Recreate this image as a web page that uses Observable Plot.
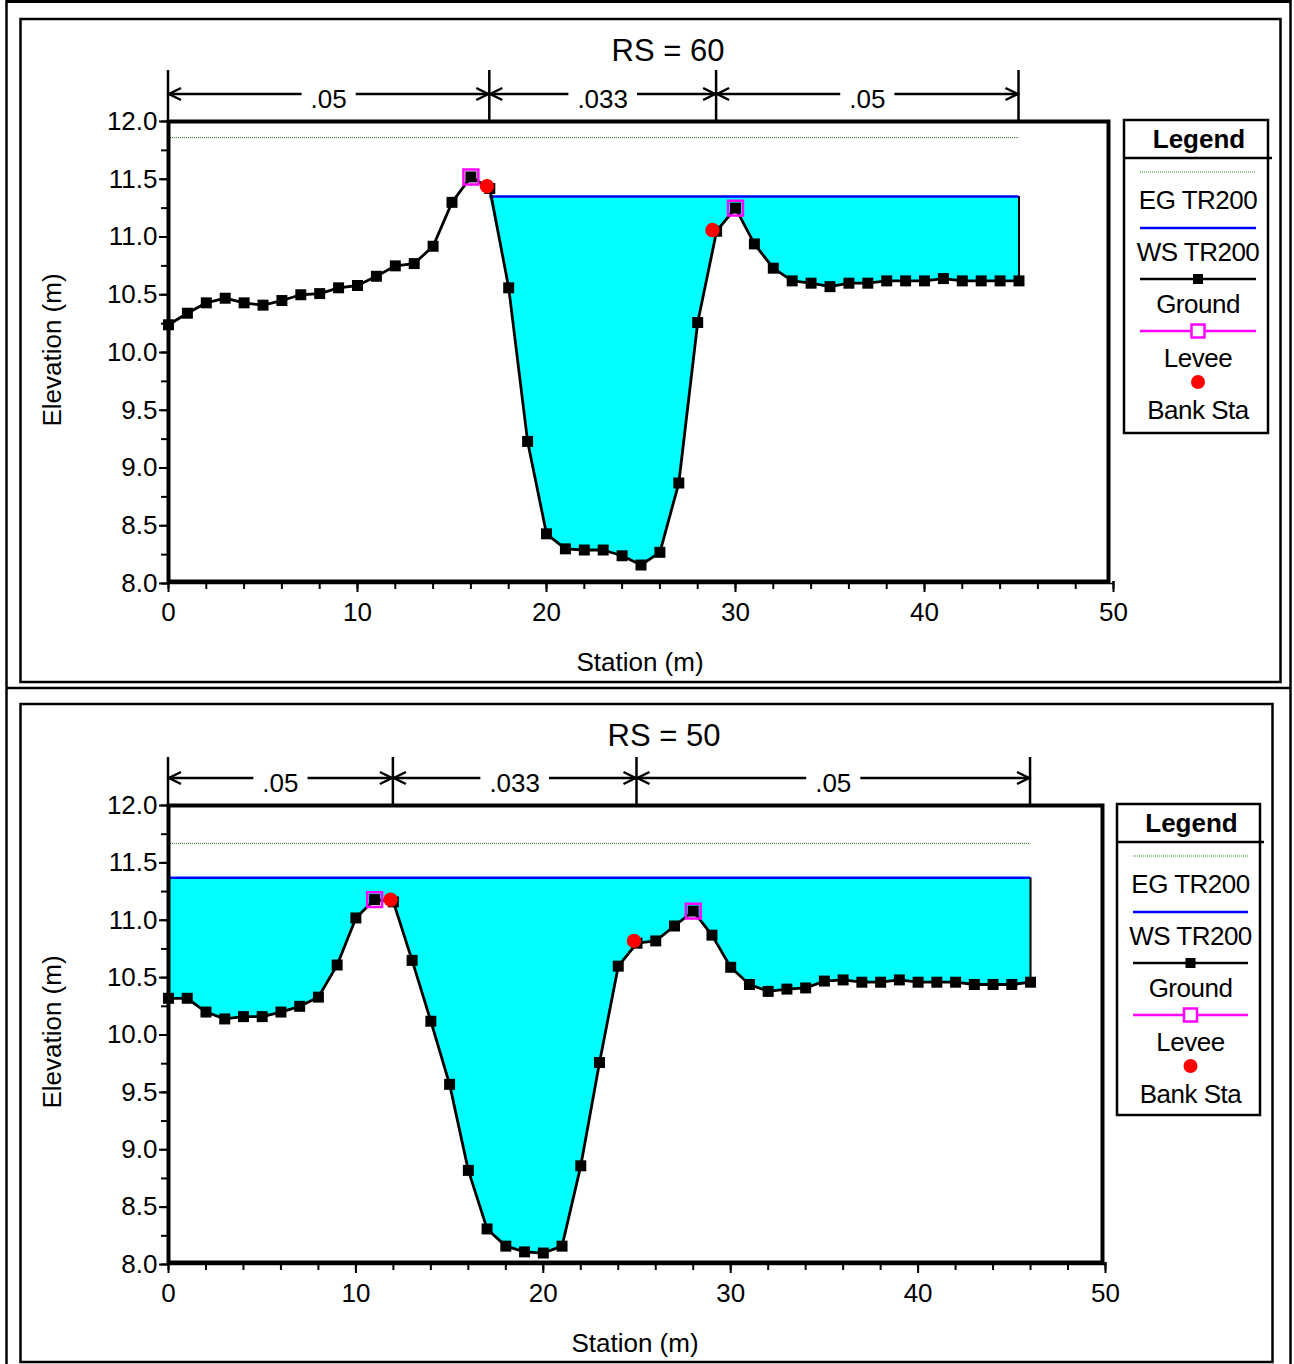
<!DOCTYPE html>
<html><head><meta charset="utf-8">
<script src="https://cdn.jsdelivr.net/npm/d3@7"></script>
<script src="https://cdn.jsdelivr.net/npm/@observablehq/plot@0.6"></script>
<style>
body{margin:0;background:#fff;}
#page{position:relative;width:1294px;height:1364px;overflow:hidden;background:#fff;}
#page svg.plotsvg{position:absolute;left:0;}
#overlay{position:absolute;left:0;top:0;pointer-events:none;}
</style></head><body><div id="page"></div>
<script>
const FONT = "'Liberation Sans', Arial, Helvetica, sans-serif";

// ---------------- DATA ----------------
// RS = 60
const rs60Title = "RS = 60";
const rs60Station = [0,1,2,3,4,5,6,7,8,9,10,11,12,13,14,15,16,17,18,19,20,21,22,23,24,25,26,27,28,29,30,31,32,33,34,35,36,37,38,39,40,41,42,43,44,45];
const rs60Ground = [10.24,10.34,10.43,10.47,10.43,10.41,10.45,10.50,10.51,10.56,10.58,10.66,10.75,10.77,10.92,11.30,11.52,11.42,10.56,9.23,8.43,8.30,8.29,8.29,8.24,8.16,8.27,8.87,10.26,11.05,11.25,10.94,10.73,10.62,10.60,10.57,10.60,10.60,10.62,10.62,10.62,10.64,10.62,10.62,10.62,10.62];
const rs60WS = 11.35;
const rs60EG = 11.86;
const rs60WetFrom = 17, rs60WetTo = 45;
const rs60LeveeStation = [16, 30];
const rs60LeveeElev = [11.52, 11.25];
const rs60BankStation = [16.85, 28.78];
const rs60BankElev = [11.44, 11.06];
const rs60NBounds = [0, 17, 29, 45];
const rs60NValues = [".05", ".033", ".05"];

// RS = 50
const rs50Title = "RS = 50";
const rs50Station = [0,1,2,3,4,5,6,7,8,9,10,11,12,13,14,15,16,17,18,19,20,21,22,23,24,25,26,27,28,29,30,31,32,33,34,35,36,37,38,39,40,41,42,43,44,45,46];
const rs50Ground = [10.32,10.32,10.20,10.14,10.16,10.16,10.20,10.25,10.33,10.61,11.02,11.18,11.16,10.65,10.12,9.57,8.82,8.31,8.16,8.11,8.10,8.16,8.86,9.76,10.60,10.80,10.82,10.95,11.08,10.87,10.59,10.44,10.38,10.40,10.41,10.47,10.48,10.46,10.46,10.48,10.46,10.46,10.46,10.44,10.44,10.44,10.46];
const rs50WS = 11.37;
const rs50EG = 11.67;
const rs50WetFrom = 0, rs50WetTo = 46;
const rs50LeveeStation = [11, 28];
const rs50LeveeElev = [11.18, 11.08];
const rs50BankStation = [11.85, 24.84];
const rs50BankElev = [11.18, 10.82];
const rs50NBounds = [0, 12, 25, 46];
const rs50NValues = [".05", ".033", ".05"];

// Axes
const xTicks = [0,10,20,30,40,50];
const xMinorTicks = [0,2,4,6,8,10,12,14,16,18,20,22,24,26,28,30,32,34,36,38,40,42,44,46,48,50];
const yTicks = [8.0,8.5,9.0,9.5,10.0,10.5,11.0,11.5,12.0];
const yMinorTicks = [8.0,8.25,8.5,8.75,9.0,9.25,9.5,9.75,10.0,10.25,10.5,10.75,11.0,11.25,11.5,11.75,12.0];
const xLabel = "Station (m)";
const yLabel = "Elevation (m)";
const legendTitle = "Legend";
const legendLabels = ["EG TR200", "WS TR200", "Ground", "Levee", "Bank Sta"];

// ---------------- LAYOUT ----------------
const page = document.getElementById("page");
const panels = [
  {data: {title: rs60Title, station: rs60Station, ground: rs60Ground, ws: rs60WS, eg: rs60EG, wetFrom: rs60WetFrom, wetTo: rs60WetTo,
          leveeS: rs60LeveeStation, leveeE: rs60LeveeElev, bankS: rs60BankStation, bankE: rs60BankElev, nB: rs60NBounds, nV: rs60NValues},
   cfg: {top: 0, fl: 168, fr: 1108, ft: 121, fb: 581, y8: 583, xEnd: 1113, barTop: 70, arrowY: 94, stripText: 99,
         titleX: 668, titleY: 50, xlabX: 640, xlabY: 662, ylabX: 52, ylabY: 350,
         legL: 1124, legT: 120, legW: 144, legH: 313}},
  {data: {title: rs50Title, station: rs50Station, ground: rs50Ground, ws: rs50WS, eg: rs50EG, wetFrom: rs50WetFrom, wetTo: rs50WetTo,
          leveeS: rs50LeveeStation, leveeE: rs50LeveeElev, bankS: rs50BankStation, bankE: rs50BankElev, nB: rs50NBounds, nV: rs50NValues},
   cfg: {top: 688, fl: 168, fr: 1102, ft: 117, fb: 574, y8: 576, xEnd: 1105, barTop: 69, arrowY: 90, stripText: 95,
         titleX: 664, titleY: 47, xlabX: 635, xlabY: 655, ylabX: 52, ylabY: 344,
         legL: 1117, legT: 116, legW: 143, legH: 311}}
];

const H = 688, W = 1294;

function scaleFn(plot, name) {
  const s = plot.scale(name);
  return s.apply ? (v => s.apply(v)) : d3.scaleLinear(s.domain, s.range);
}

function drawPanel(p) {
  const d = p.data, c = p.cfg;
  const ground = d.station.map((s, i) => ({x: s, y: d.ground[i]}));
  const wet = ground.filter(g => g.x >= d.wetFrom && g.x <= d.wetTo);
  const levees = d.leveeS.map((s, i) => ({x: s, y: d.leveeE[i]}));
  const banks = d.bankS.map((s, i) => ({x: s, y: d.bankE[i]}));
  const lastSta = d.station[d.station.length - 1];

  const plot = Plot.plot({
    width: W, height: H,
    marginLeft: c.fl, marginRight: W - c.fr, marginTop: c.ft, marginBottom: H - c.fb,
    x: {domain: [0, 50], range: [c.fl, c.xEnd], label: null},
    y: {domain: [8, 12], range: [c.y8, c.ft], label: null},
    style: {fontFamily: FONT, fontSize: "26px", color: "#000", background: "transparent", overflow: "visible"},
    marks: [
      Plot.areaY(wet, {x: "x", y1: g => Math.min(g.y, d.ws), y2: () => d.ws, fill: "#00ffff"}),
      Plot.ruleX([wet[wet.length - 1]], {x: "x", y1: "y", y2: () => d.ws, stroke: "#000", strokeWidth: 2}),
      Plot.ruleY([d.ws], {y: v => v, x1: () => d.wetFrom, x2: () => d.wetTo, stroke: "#0000ff", strokeWidth: 2.5}),
      Plot.ruleY([d.eg], {y: v => v, x1: () => 0, x2: () => lastSta, stroke: "#1c7a1c", strokeWidth: 1, strokeDasharray: "1,1"}),
      Plot.line(ground, {x: "x", y: "y", stroke: "#000", strokeWidth: 2.8}),
      Plot.dot(ground, {x: "x", y: "y", symbol: "square", r: 6.2, fill: "#000", stroke: "none"}),
      Plot.dot(levees, {x: "x", y: "y", symbol: "square", r: 8.4, fill: "none", stroke: "#ff00ff", strokeWidth: 2.5}),
      Plot.dot(banks, {x: "x", y: "y", r: 7.2, fill: "#ff0000", stroke: "none"}),
      Plot.frame({stroke: "#000", strokeWidth: 4}),
      Plot.ruleY([8], {y: v => v, x1: () => 0, x2: () => 50, stroke: "#000", strokeWidth: 1.5}),
      Plot.axisX({ticks: xMinorTicks, tickSize: 8, tickFormat: () => "", strokeWidth: 2, label: null}),
      Plot.axisX({ticks: xTicks, tickSize: 11, tickPadding: 10, tickFormat: d3.format("d"), strokeWidth: 2, label: null, fill: "#000"}),
      Plot.axisY({ticks: yMinorTicks, tickSize: 7, tickFormat: () => "", strokeWidth: 2, label: null}),
      Plot.axisY({ticks: yTicks, tickSize: 9, tickPadding: 2, tickFormat: d3.format(".1f"), strokeWidth: 2, label: null, fill: "#000"})
    ]
  });
  plot.classList.add("plotsvg");
  plot.style.top = c.top + "px";
  page.appendChild(plot);

  // Manning's n strip, positioned through the plot's x scale
  const sx = scaleFn(plot, "x");
  const svg = d3.select(plot);
  const g = svg.append("g").attr("stroke", "#000").attr("stroke-width", 2.5).attr("fill", "none");
  const px = d.nB.map(b => sx(b));
  px.forEach(x => g.append("line").attr("x1", x).attr("x2", x).attr("y1", c.barTop).attr("y2", c.ft));
  const y = c.arrowY;
  d.nV.forEach((lab, i) => {
    const a = px[i], b = px[i + 1], m = (a + b) / 2;
    const t = svg.append("text").attr("x", m).attr("y", c.stripText)
      .attr("text-anchor", "middle").attr("dominant-baseline", "central")
      .attr("font-family", FONT).attr("font-size", 26).attr("fill", "#000").text(lab);
    const w = t.node().getBBox().width;
    g.append("line").attr("x1", a).attr("x2", m - w / 2 - 9).attr("y1", y).attr("y2", y);
    g.append("line").attr("x1", m + w / 2 + 9).attr("x2", b).attr("y1", y).attr("y2", y);
    g.append("path").attr("d", `M${a + 13},${y - 6}L${a + 1},${y}L${a + 13},${y + 6}`);
    g.append("path").attr("d", `M${b - 13},${y - 6}L${b - 1},${y}L${b - 13},${y + 6}`);
  });

  // Title, axis labels
  svg.append("text").attr("x", c.titleX).attr("y", c.titleY).attr("text-anchor", "middle").attr("dominant-baseline", "central")
    .attr("font-family", FONT).attr("font-size", 31).attr("fill", "#000").text(d.title);
  svg.append("text").attr("x", c.xlabX).attr("y", c.xlabY).attr("text-anchor", "middle").attr("dominant-baseline", "central")
    .attr("font-family", FONT).attr("font-size", 26).attr("fill", "#000").text(xLabel);
  svg.append("text").attr("transform", `translate(${c.ylabX},${c.ylabY}) rotate(-90)`).attr("text-anchor", "middle").attr("dominant-baseline", "central")
    .attr("font-family", FONT).attr("font-size", 26).attr("fill", "#000").text(yLabel);

  // Legend
  const L = c.legL, T = c.legT, LW = c.legW, LH = c.legH;
  const lg = svg.append("g");
  lg.append("rect").attr("x", L).attr("y", T).attr("width", LW).attr("height", LH).attr("fill", "#fff").attr("stroke", "#000").attr("stroke-width", 2.5);
  lg.append("text").attr("x", L + LW / 2 + 3).attr("y", T + 19).attr("text-anchor", "middle").attr("dominant-baseline", "central")
    .attr("font-family", FONT).attr("font-size", 26).attr("font-weight", "bold").attr("fill", "#000").text(legendTitle);
  lg.append("line").attr("x1", L).attr("x2", L + LW + 4).attr("y1", T + 38).attr("y2", T + 38).attr("stroke", "#000").attr("stroke-width", 2.5);
  const cx = L + LW / 2 + 2, x1 = L + 16, x2 = L + LW - 12;
  const swatchY = [52, 108, 159, 211, 262], textY = [80, 132, 184, 238, 290];
  lg.append("line").attr("x1", x1).attr("x2", x2).attr("y1", T + swatchY[0]).attr("y2", T + swatchY[0])
    .attr("stroke", "#1c931c").attr("stroke-width", 1).attr("stroke-dasharray", "1,1");
  lg.append("line").attr("x1", x1).attr("x2", x2).attr("y1", T + swatchY[1]).attr("y2", T + swatchY[1])
    .attr("stroke", "#0000ff").attr("stroke-width", 2.5);
  lg.append("line").attr("x1", x1).attr("x2", x2).attr("y1", T + swatchY[2]).attr("y2", T + swatchY[2])
    .attr("stroke", "#000").attr("stroke-width", 2.5);
  lg.append("rect").attr("x", cx - 5).attr("y", T + swatchY[2] - 5).attr("width", 10).attr("height", 10).attr("fill", "#000");
  lg.append("line").attr("x1", x1).attr("x2", x2).attr("y1", T + swatchY[3]).attr("y2", T + swatchY[3])
    .attr("stroke", "#ff00ff").attr("stroke-width", 2.5);
  lg.append("rect").attr("x", cx - 6.5).attr("y", T + swatchY[3] - 6.5).attr("width", 13).attr("height", 13).attr("fill", "#fff")
    .attr("stroke", "#ff00ff").attr("stroke-width", 2.5);
  lg.append("circle").attr("cx", cx).attr("cy", T + swatchY[4]).attr("r", 7).attr("fill", "#ff0000");
  legendLabels.forEach((lab, i) => {
    lg.append("text").attr("x", cx).attr("y", T + textY[i]).attr("text-anchor", "middle").attr("dominant-baseline", "central")
      .attr("font-family", FONT).attr("font-size", 26).attr("letter-spacing", "-0.5px").attr("fill", "#000").text(lab);
  });
}

panels.forEach(drawPanel);

// Page borders (table-like layout around the two panels)
const ov = d3.select(page).append("svg").attr("id", "overlay").attr("width", W).attr("height", 1364);
const bd = ov.append("g").attr("stroke", "#000").attr("fill", "none");
bd.append("line").attr("x1", 6).attr("x2", 1291).attr("y1", 1.5).attr("y2", 1.5).attr("stroke-width", 3);
bd.append("line").attr("x1", 6.5).attr("x2", 6.5).attr("y1", 0).attr("y2", 1364).attr("stroke-width", 2.5);
bd.append("line").attr("x1", 1290.5).attr("x2", 1290.5).attr("y1", 0).attr("y2", 1364).attr("stroke-width", 2.5);
bd.append("line").attr("x1", 6).attr("x2", 1291).attr("y1", 688).attr("y2", 688).attr("stroke-width", 2.5);
bd.append("rect").attr("x", 20.5).attr("y", 19).attr("width", 1260).attr("height", 663).attr("stroke-width", 2.5);
bd.append("rect").attr("x", 20.5).attr("y", 704).attr("width", 1252).attr("height", 658).attr("stroke-width", 2.5);
</script></body></html>
